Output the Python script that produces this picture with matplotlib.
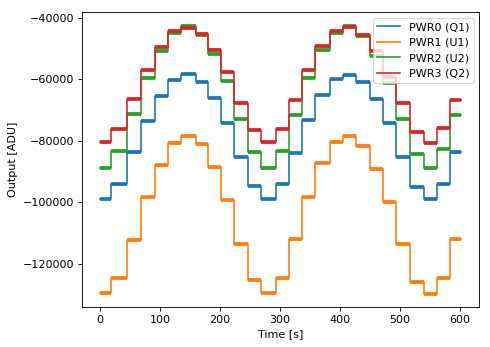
import numpy as np
import matplotlib
matplotlib.use('Agg')
import matplotlib.pyplot as plt

# step edges in seconds
edges = [0, 18, 46, 68, 91, 113, 135, 160, 180, 202, 224, 246, 269, 293,
         315, 337, 359, 383, 405, 427, 450, 471, 494, 516, 540, 562, 584, 602]

# level of each step, one value per segment
pwr0 = [-99000, -94100, -83700, -73600, -65400, -60300, -58400, -60800, -66100,
        -74200, -85300, -94700, -99000, -94200, -83900, -73400, -65300, -60000,
        -58600, -60800, -66600, -74400, -85400, -95000, -99000, -94100, -83700]
pwr1 = [-129500, -124500, -112300, -98400, -87800, -80600, -78600, -81000, -88600,
        -99300, -113700, -125100, -129600, -124600, -112000, -98400, -87300, -80400,
        -78600, -81800, -89100, -100000, -113700, -126000, -129700, -124600, -112000]
pwr2 = [-88800, -83200, -71400, -59700, -51000, -45000, -42600, -45800, -51900,
        -60600, -73000, -83700, -88800, -83400, -71500, -59700, -50700, -45000,
        -42800, -46100, -52600, -61400, -73000, -84300, -88900, -82800, -71500]
pwr3 = [-80400, -76100, -66600, -57000, -49600, -44500, -43400, -45300, -50500,
        -57800, -67900, -76600, -80400, -76300, -66800, -57000, -49400, -44500,
        -43200, -45600, -51000, -59200, -67900, -77200, -80600, -75800, -66800]

labels = ['PWR0 (Q1)', 'PWR1 (U1)', 'PWR2 (U2)', 'PWR3 (Q2)']
series = [pwr0, pwr1, pwr2, pwr3]

fig = plt.figure(figsize=(490 / 80, 347 / 80), dpi=80)
ax = fig.add_axes([0.167, 0.115, 0.811, 0.85])

for vals, lab in zip(series, labels):
    line, = ax.step(edges, vals + [vals[-1]], where='post', lw=1.5, label=lab)
    # noisy plateaus look thicker than the jumps
    ax.hlines(vals, edges[:-1], edges[1:], colors=line.get_color(), lw=3.4)

ax.set_xlabel('Time [s]')
ax.set_ylabel('Output [ADU]')
ax.set_yticks([-120000, -100000, -80000, -60000, -40000])

ax.legend(loc='upper right')

fig.savefig('out.png', dpi=80)
